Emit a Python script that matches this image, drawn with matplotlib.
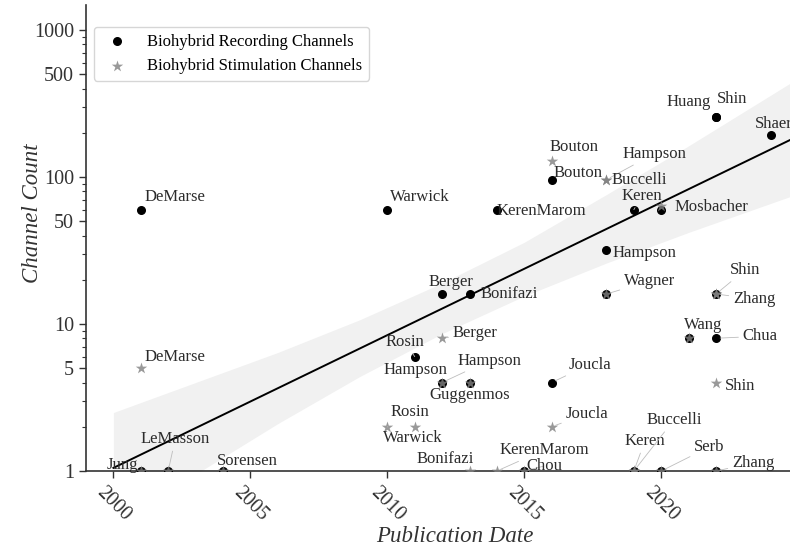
import numpy as np
import matplotlib
matplotlib.use('Agg')
import matplotlib.pyplot as plt
from matplotlib.ticker import FixedLocator, LogLocator, NullFormatter

plt.rcParams['font.family'] = ['Liberation Serif', 'DejaVu Serif']

# Biohybrid recording channels per study
rec_nomes = ['DeMarse', 'Jung', 'LeMasson', 'Sorensen', 'Warwick', 'Rosin', 'Berger',
             'Hampson', 'Bonifazi', 'Guggenmos', 'KerenMarom', 'Chou', 'Bouton', 'Joucla',
             'Hampson', 'Wagner', 'Keren', 'Buccelli', 'Mosbacher', 'Serb', 'Wang',
             'Huang', 'Shin', 'Chua', 'Zhang', 'Zhang', 'Shaer']
rec_anos = [2001, 2001, 2002, 2004, 2010, 2011, 2012, 2012, 2013, 2013, 2014, 2015, 2016, 2016,
            2018, 2018, 2019, 2019, 2020, 2020, 2021, 2022, 2022, 2022, 2022, 2022, 2024]
rec_canais = [60, 1, 1, 1, 60, 6, 16, 4, 16, 4, 60, 1, 96, 4,
              32, 16, 60, 1, 60, 1, 8, 256, 256, 8, 16, 1, 192]

# Biohybrid stimulation channels per study
stim_nomes = ['DeMarse', 'Jung', 'LeMasson', 'Sorensen', 'Warwick', 'Rosin', 'Berger',
              'Hampson', 'Guggenmos', 'Bonifazi', 'KerenMarom', 'Chou', 'Bouton', 'Joucla',
              'Hampson', 'Buccelli', 'Wagner', 'Keren', 'Buccelli', 'Mosbacher', 'Serb',
              'Wang', 'Shin', 'Zhang', 'Shin', 'Zhang']
stim_anos = [2001, 2001, 2002, 2004, 2010, 2011, 2012, 2012, 2013, 2013, 2014, 2015, 2016, 2016,
             2018, 2018, 2018, 2019, 2019, 2020, 2020, 2021, 2022, 2022, 2022, 2022]
stim_canais = [5, 1, 1, 1, 2, 2, 8, 4, 4, 1, 1, 1, 128, 2,
               96, 96, 16, 1, 1, 64, 1, 8, 16, 16, 4, 1]

# Ajuste log-linear e intervalo de confianca
ajuste_anos = [2000, 2025]
ajuste_canais = [1.05, 190]
banda_anos = [2000, 2003, 2006, 2009, 2012, 2015, 2018, 2021, 2025]
banda_sup = [2.5, 4.0, 6.4, 10.7, 19, 36, 76, 163, 470]
banda_inf = [0.43, 0.95, 2.1, 4.4, 8.6, 15.5, 26, 42, 77]

# Posicao dos rotulos (deslocamento em pixels, linha guia)
rec_rotulos = [(34, 13, False), None, None, None, (32, 13, False), (-10, 15, True),
               (9, 12, False), (-27, 13, False), (40, 0, False), None, (44, -1, False), None,
               (26, 7, False), (38, 18, True), (38, -3, False), None, (8, 14, True), None,
               (50, 3, False), None, None, (-27, 15, False), (16, 18, False), (44, 2, True),
               None, None, (3, 11, False)]
stim_rotulos = [(34, 11, False), (-18, 6, False), (7, 32, True), (24, 10, False),
                (25, -11, True), (-5, 15, False), (33, 5, True), (47, 22, True),
                (0, -12, False), (-24, 12, False), (47, 21, True), (20, 5, True),
                (22, 14, False), (35, 13, True), (48, 26, True), (33, 0, False),
                (43, 13, True), (11, 30, True), (40, 51, True), None, (48, 24, True),
                (15, 13, False), (29, 24, True), (38, -5, True), (24, -3, False), (37, 8, True)]

fig = plt.figure(figsize=(7.9, 5.48), dpi=100)
ax = fig.add_axes([0.1089, 0.1405, 0.8911, 0.8504])

ax.fill_between(banda_anos, banda_inf, banda_sup, color='#f1f1f1', lw=0, zorder=1)
ax.plot(ajuste_anos, ajuste_canais, color='black', lw=1.4, zorder=2)

ax.scatter(rec_anos, rec_canais, s=30, color='black', zorder=3,
           label='Biohybrid Recording Channels')
ax.scatter(stim_anos, stim_canais, s=75, marker='*', color='grey', alpha=0.8, lw=0,
           zorder=4, label='Biohybrid Stimulation Channels')


def rotular(nomes, anos, canais, rotulos):
    for nome, ano, canal, rot in zip(nomes, anos, canais, rotulos):
        if rot is None:
            continue
        dx, dy, guia = rot
        props = dict(arrowstyle='-', color='#bdbdbd', lw=0.6, shrinkA=1, shrinkB=3) if guia else None
        ax.annotate(nome, xy=(ano, canal), xytext=(dx, dy), textcoords='offset pixels',
                    ha='center', va='center', fontsize=12, color='#2b2b2b',
                    arrowprops=props, zorder=5, annotation_clip=False)


rotular(rec_nomes, rec_anos, rec_canais, rec_rotulos)
rotular(stim_nomes, stim_anos, stim_canais, stim_rotulos)

ax.set_yscale('log')
ax.set_xlim(1999, 2024.7)
ax.set_ylim(1, 1480)
ax.yaxis.set_major_locator(FixedLocator([1, 5, 10, 50, 100, 500, 1000]))
ax.set_yticklabels(['1', '5', '10', '50', '100', '500', '1000'])
ax.yaxis.set_minor_locator(LogLocator(base=10, subs=[2, 3, 4, 6, 7, 8, 9]))
ax.yaxis.set_minor_formatter(NullFormatter())
ax.set_xticks([2000, 2005, 2010, 2015, 2020])
ax.tick_params(axis='both', which='major', labelsize=14.5, colors='#333333',
               direction='out', length=5, width=1)
ax.tick_params(axis='y', which='minor', length=3, width=0.8, colors='#333333')
for lab in ax.get_xticklabels():
    lab.set_rotation(-45)
    lab.set_ha('center')

for lado in ['top', 'right']:
    ax.spines[lado].set_visible(False)
for lado in ['left', 'bottom']:
    ax.spines[lado].set_color('#333333')
    ax.spines[lado].set_linewidth(1.2)

ax.set_xlabel('Publication Date', fontsize=16.5, style='italic', color='#333333')
ax.set_ylabel('Channel Count', fontsize=16.5, style='italic', color='#333333')
ax.xaxis.set_label_coords(0.524, -0.14)
ax.yaxis.set_label_coords(-0.0765, 0.554)
ax.xaxis.label.set_va('center')
ax.yaxis.label.set_va('center')

ax.legend(loc='upper left', bbox_to_anchor=(0.011, 0.953), fontsize=12,
          frameon=True, edgecolor='#cccccc', borderaxespad=0)

fig.savefig('out.png', dpi=100)
plt.close()
